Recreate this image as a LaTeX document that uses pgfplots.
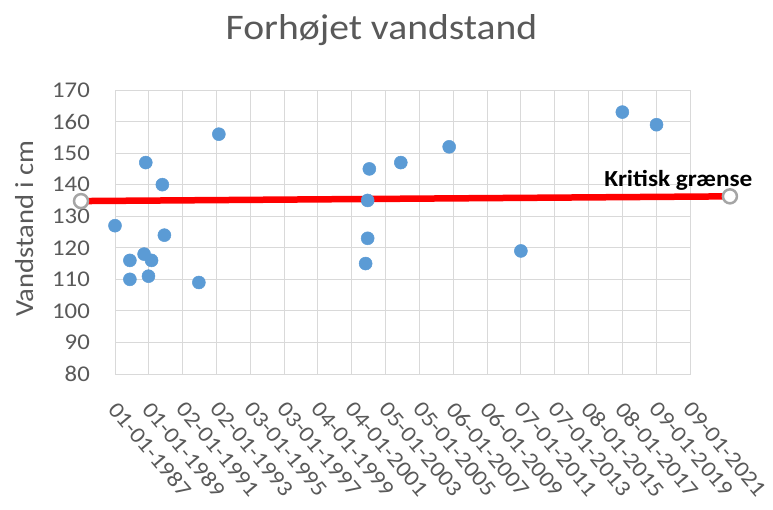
\documentclass[border=0pt]{standalone}
\usepackage{pgfplots}
\pgfplotsset{compat=1.18}
\usepackage{fontspec}
\setmainfont{Carlito}[FakeStretch=1.1]
\definecolor{txtgray}{HTML}{595959}
\definecolor{gridgray}{HTML}{D9D9D9}
\definecolor{ptblue}{HTML}{5B9BD5}
\definecolor{mkgray}{HTML}{A5A5A5}
\begin{document}
\begin{tikzpicture}[x=1pt,y=1pt]
\path[use as bounding box] (0,0) rectangle (773,509);
\node[font=\fontsize{36}{40}\selectfont, text=txtgray, anchor=base] at (381.5,469) {Forhøjet vandstand};
\node[font=\fontsize{26}{30}\selectfont, text=txtgray, anchor=base, rotate=90] at (33,280.5) {Vandstand i cm};
\begin{axis}[
  at={(115pt,135pt)}, anchor=south west,
  scale only axis, width=575pt, height=284pt,
  xmin=0, xmax=17, ymin=80, ymax=170,
  xtick={0,1,...,17},
  xticklabels={01-01-1987,01-01-1989,02-01-1991,02-01-1993,03-01-1995,03-01-1997,04-01-1999,04-01-2001,05-01-2003,05-01-2005,06-01-2007,06-01-2009,07-01-2011,07-01-2013,08-01-2015,08-01-2017,09-01-2019,09-01-2021},
  ytick={80,90,...,170},
  grid=major, major grid style={gridgray, line width=1pt},
  axis line style={gridgray, line width=1pt},
  major tick length=0pt, tick style={draw=none},
  tick label style={font=\fontsize{22.5}{26}\selectfont, text=txtgray, inner sep=0pt},
  yticklabel style={anchor=east, xshift=-25pt},
  xticklabel style={anchor=north west, xshift=4pt, yshift=-26pt, rotate=-50},
  /pgf/number format/assume math mode=true,
  clip=false,
]
\addplot[only marks, mark=*, mark size=6.5pt, mark options={fill=ptblue, draw=ptblue, line width=0.5pt}] coordinates {
  (0.00,127) (0.44,116) (0.44,110) (0.91,147) (0.86,118) (1.08,116)
  (0.99,111) (1.40,140) (1.46,124) (2.48,109) (3.07,156)
  (7.52,145) (7.47,135) (7.47,123) (7.41,115)
  (8.45,147) (9.88,152) (12.00,119) (15.00,163) (16.01,159)
};
\addplot[color=red, line width=6.5pt, mark=*, mark size=7pt, mark options={draw=mkgray, fill=white, line width=2.5pt}] coordinates {
  (-1.005,134.8) (18.18,136.3)
};
\node[font=\bfseries\fontsize{23}{27}\selectfont, text=black, anchor=base, xshift=-51.5pt, yshift=10pt] at (axis cs:18.18,136.3) {Kritisk grænse};
\end{axis}
\end{tikzpicture}
\end{document}
